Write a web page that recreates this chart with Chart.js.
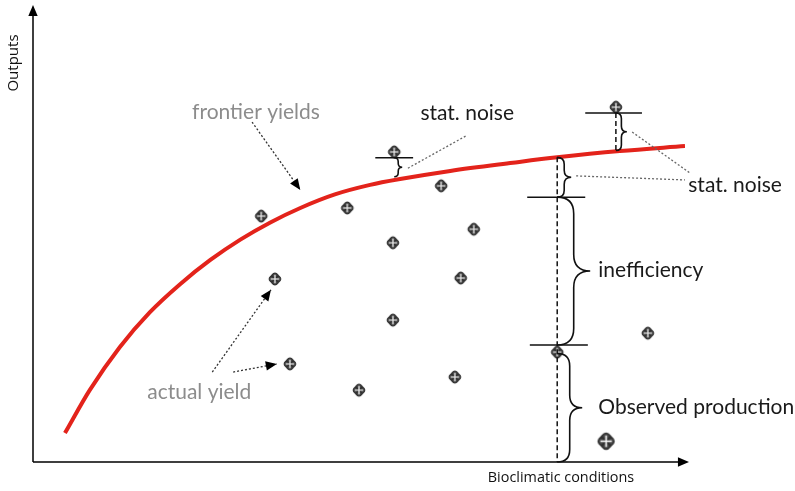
<!DOCTYPE html>
<html>
<head>
<meta charset="utf-8">
<script src="https://cdn.jsdelivr.net/npm/chart.js@4"></script>
<style>
  body { margin: 0; background: #fff; }
  #wrap { width: 795px; height: 491px; }
</style>
</head>
<body>
<div id="wrap"><canvas id="myChart"></canvas></div>
<script>
// frontier curve (scale 0..100 on both axes)
const frontierX = [4.9, 8.7, 13.3, 17.9, 22.6, 27.2, 31.8, 36.4, 41.0, 46.3, 51.7, 56.3, 64.0, 73.6, 80.4, 90.0, 100];
const frontierY = [6.4, 15.9, 25.4, 33.1, 39.4, 44.7, 49.2, 53.0, 56.2, 59.2, 61.3, 62.6, 64.4, 66.2, 67.4, 68.8, 69.9];

// actual yields (farms)
const farmX = [35.0, 48.2, 62.6, 55.4, 55.2, 67.6, 37.1, 65.6, 55.2, 39.4, 50.0, 64.7, 80.4, 94.3, 89.4];
const farmY = [54.4, 56.2, 61.1, 68.6, 48.5, 51.5, 40.5, 40.7, 31.4, 21.7, 15.9, 18.8, 24.3, 28.5, 78.5];
const bigX = [87.9];
const bigY = [4.6];

const xTitle = 'Bioclimatic conditions';
const yTitle = 'Outputs';

const ctx = document.getElementById('myChart').getContext('2d');

function makeMarker(r) {
  const s = Math.ceil(r * 2 + 4);
  const c = document.createElement('canvas');
  c.width = c.height = s;
  const g = c.getContext('2d');
  g.translate(s / 2, s / 2);
  const k = r / 8;
  const arm = [[-1.3, -1.3], [-3.6, -4.4], [0, -9], [3.6, -4.4], [1.3, -1.3]];
  g.beginPath();
  for (let i = 0; i < 4; i++) {
    const a = i * Math.PI / 2, co = Math.cos(a), si = Math.sin(a);
    const p = arm.map(([x, y]) => [(x * co - y * si) * k, (x * si + y * co) * k]);
    if (i === 0) g.moveTo(p[0][0], p[0][1]); else g.lineTo(p[0][0], p[0][1]);
    g.lineTo(p[1][0], p[1][1]);
    g.quadraticCurveTo(p[2][0], p[2][1], p[3][0], p[3][1]);
    g.lineTo(p[4][0], p[4][1]);
  }
  g.closePath();
  g.fillStyle = '#4a4a4a';
  g.fill();
  g.lineWidth = 1.2 * k;
  g.strokeStyle = '#2e2e2e';
  g.stroke();
  g.beginPath();
  g.moveTo(-4.8 * k, 0); g.lineTo(4.8 * k, 0);
  g.moveTo(0, -4.8 * k); g.lineTo(0, 4.8 * k);
  g.lineWidth = 1.3 * k;
  g.strokeStyle = '#fff';
  g.stroke();
  return c;
}

function arrowHead(c, x0, y0, x1, y1, size) {
  const a = Math.atan2(y1 - y0, x1 - x0);
  c.beginPath();
  c.moveTo(x1, y1);
  c.lineTo(x1 - size * Math.cos(a - 0.4), y1 - size * Math.sin(a - 0.4));
  c.lineTo(x1 - size * Math.cos(a + 0.4), y1 - size * Math.sin(a + 0.4));
  c.closePath();
  c.fill();
}

function brace(c, x, y0, y1, w) {
  const ym = (y0 + y1) / 2;
  const dir = y1 > y0 ? 1 : -1;
  const h = Math.min(w / 2, Math.abs(y1 - y0) / 4);
  const bx = x + w / 2;
  c.beginPath();
  c.moveTo(x, y0);
  c.quadraticCurveTo(bx, y0, bx, y0 + dir * h);
  c.lineTo(bx, ym - dir * h);
  c.quadraticCurveTo(bx, ym, x + w, ym);
  c.quadraticCurveTo(bx, ym, bx, ym + dir * h);
  c.lineTo(bx, y1 - dir * h);
  c.quadraticCurveTo(bx, y1, x, y1);
  c.stroke();
}

const sketch = {
  id: 'sketch',
  afterDraw(chart) {
    const c = chart.ctx;
    const sx = chart.scales.x, sy = chart.scales.y;
    const X = v => sx.getPixelForValue(v);
    const Y = v => sy.getPixelForValue(v);
    const area = chart.chartArea;
    c.save();

    // axes with arrows
    c.strokeStyle = '#000';
    c.fillStyle = '#000';
    c.lineWidth = 1.5;
    c.beginPath();
    c.moveTo(area.left, area.bottom); c.lineTo(area.left, area.top + 6);
    c.moveTo(area.left, area.bottom); c.lineTo(area.right - 4, area.bottom);
    c.stroke();
    arrowHead(c, area.left, area.bottom, area.left, area.top - 5, 12);
    arrowHead(c, area.left, area.bottom, area.right + 4, area.bottom, 12);

    c.fillStyle = '#111';
    c.textAlign = 'center';
    c.textBaseline = 'middle';
    c.font = '14.4px "Open Sans"';
    c.fillText(xTitle, area.left + 528, area.bottom + 16);
    c.save();
    c.font = '15px "Open Sans"';
    c.translate(14, area.top + 53);
    c.rotate(-Math.PI / 2);
    c.fillText(yTitle, 0, 0);
    c.restore();

    // dashed verticals
    c.strokeStyle = '#111';
    c.lineWidth = 1.5;
    c.setLineDash([5, 3]);
    c.beginPath();
    c.moveTo(X(80.4), Y(67.4)); c.lineTo(X(80.4), Y(0));
    c.moveTo(X(89.4), Y(77.2)); c.lineTo(X(89.4), Y(68.9));
    c.stroke();
    c.setLineDash([]);

    // horizontal ticks
    c.lineWidth = 1.5;
    c.beginPath();
    [[52.5, 58.3, 67.3], [75.8, 84.7, 58.6], [76.2, 85.1, 25.9], [84.7, 93.4, 77.2]].forEach(([a, b, y]) => {
      c.moveTo(X(a), Y(y)); c.lineTo(X(b), Y(y));
    });
    c.stroke();

    // braces
    c.lineWidth = 1.6;
    brace(c, X(55.4), Y(67.3), Y(63.1), 8);
    brace(c, X(80.4), Y(67.4), Y(58.6), 14);
    brace(c, X(89.4), Y(77.2), Y(68.9), 11);
    brace(c, X(80.4), Y(58.6), Y(25.9), 33);
    brace(c, X(80.4), Y(24.0), Y(0), 25);

    // dotted pointer lines
    c.strokeStyle = '#666';
    c.lineWidth = 1.3;
    c.setLineDash([2, 2]);
    c.beginPath();
    c.moveTo(X(57.5), Y(65.0)); c.lineTo(X(66.6), Y(72.3));
    c.moveTo(X(83.3), Y(63.3)); c.lineTo(X(100), Y(62.4));
    c.moveTo(X(91.9), Y(73.0)); c.lineTo(X(100.8), Y(63.9));
    c.stroke();
    c.strokeStyle = '#333';
    const arrows = [[33.6, 75.2, 41.0, 60.2], [27.5, 19.9, 36.5, 38.1], [30.7, 19.9, 37.4, 21.7]];
    arrows.forEach(([a, b, d, e]) => {
      c.beginPath();
      c.moveTo(X(a), Y(b)); c.lineTo(X(d), Y(e));
      c.stroke();
    });
    c.setLineDash([]);
    c.fillStyle = '#000';
    arrows.forEach(([a, b, d, e]) => arrowHead(c, X(a), Y(b), X(d), Y(e), 12));

    // labels
    c.textBaseline = 'middle';
    c.font = '21px Lato';
    c.fillStyle = '#1a1a1a';
    c.textAlign = 'center';
    c.fillText('stat. noise', X(66.6), Y(77.2));
    c.textAlign = 'left';
    c.fillText('stat. noise', X(100.5), Y(61.3));
    c.fillText('inefficiency', X(86.7), Y(42.5));
    c.fillText('Observed production', X(86.7), Y(12.2));
    c.fillStyle = '#8c8c8c';
    c.textAlign = 'center';
    c.fillText('frontier yields', X(34.2), Y(77.4));
    c.fillText('actual yield', X(25.5), Y(15.5));
    c.restore();
  }
};

const data = {
  datasets: [{
    type: 'line',
    label: 'frontier yields',
    data: frontierX.map((x, i) => ({ x, y: frontierY[i] })),
    borderColor: '#e3231b',
    borderWidth: 4,
    pointRadius: 0,
    cubicInterpolationMode: 'monotone',
    fill: false,
  }, {
    type: 'scatter',
    label: 'actual yield',
    data: farmX.map((x, i) => ({ x, y: farmY[i] })),
    pointStyle: makeMarker(7),
  }, {
    type: 'scatter',
    label: 'observed',
    data: bigX.map((x, i) => ({ x, y: bigY[i] })),
    pointStyle: makeMarker(9.5),
  }]
};

const config = {
  type: 'scatter',
  data: data,
  options: {
    responsive: true,
    maintainAspectRatio: false,
    animation: false,
    layout: { padding: { left: 33, top: 10, right: 110, bottom: 29 } },
    plugins: { legend: { display: false }, tooltip: { enabled: false } },
    scales: {
      x: { type: 'linear', min: 0, max: 100, display: false },
      y: { type: 'linear', min: 0, max: 100, display: false }
    }
  },
  plugins: [sketch]
};

const myChart = new Chart(ctx, config);
</script>
</body>
</html>
